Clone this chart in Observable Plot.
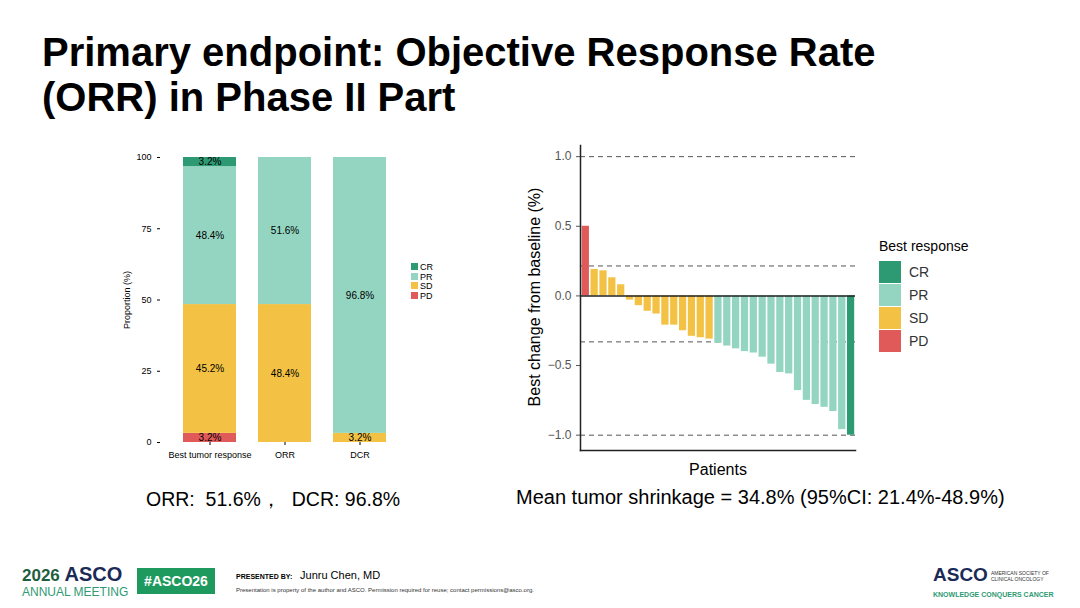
<!DOCTYPE html><html><head><meta charset="utf-8">
<script src="https://cdn.jsdelivr.net/npm/d3@7"></script>
<script src="https://cdn.jsdelivr.net/npm/@observablehq/plot@0.6"></script>
<style>
body{margin:0;width:1080px;height:608px;background:#fff;font-family:Arial,"Liberation Sans",sans-serif;position:relative;overflow:hidden}
.abs{position:absolute}
h1{position:absolute;left:42px;top:30px;margin:0;font-size:40px;line-height:45px;font-weight:bold;color:#000}
</style></head><body>
<h1>Primary endpoint: Objective Response Rate<br>(ORR) in Phase II Part</h1>
<div id="left" class="abs" style="left:120px;top:140px"></div>
<div id="leg1" class="abs" style="left:411px;top:263px;font-size:9px;line-height:9.5px"></div>
<div id="right" class="abs" style="left:510px;top:130px"></div>
<div class="abs" style="left:535px;top:297px;transform:translate(-50%,-50%) rotate(-90deg);white-space:nowrap;font-size:16px">Best change from baseline (%)</div>
<div id="leg2" class="abs" style="left:879px;top:238px;font-size:14px"></div>
<div class="abs" style="left:146px;top:486px;font-size:19.5px">ORR:&nbsp; 51.6%，&nbsp; DCR: 96.8%</div>
<div class="abs" style="left:516px;top:486px;font-size:20px">Mean tumor shrinkage = 34.8% (95%CI: 21.4%-48.9%)</div>
<div class="abs" style="left:22px;top:567px;font-size:17px;font-weight:bold;color:#1f5d3f;line-height:15px">2026 <span style="color:#1b2a56;font-size:20px">ASCO</span><br><span style="font-size:12px;font-weight:normal;color:#2e9a73">ANNUAL MEETING</span></div>
<div class="abs" style="left:137px;top:568px;width:78px;height:26px;background:#1f9a5e;color:#fff;font-weight:bold;font-size:14px;line-height:26px;text-align:center">#ASCO26</div>
<div class="abs" style="left:236px;top:569px;font-size:7px;font-weight:bold">PRESENTED BY:&nbsp;&nbsp;&nbsp; <span style="font-size:11px;font-weight:normal">Junru Chen, MD</span></div>
<div class="abs" style="left:236px;top:587px;font-size:6px;color:#333">Presentation is property of the author and ASCO. Permission required for reuse; contact permissions@asco.org.</div>
<div class="abs" style="left:933px;top:567px;font-size:19px;font-weight:bold;color:#1b2a56;line-height:16px">ASCO<span style="font-size:5px;font-weight:normal;color:#333;display:inline-block;vertical-align:middle;line-height:6px;margin-left:3px">AMERICAN SOCIETY OF<br>CLINICAL ONCOLOGY</span><br><span style="font-size:7px;color:#2e9a73">KNOWLEDGE CONQUERS CANCER</span></div>
<script>
const responses=["CR","PR","SD","PD"];
const colors=["#2e9a73","#93d5c0","#f3c244","#e05a5a"];
const groups=["Best tumor response","ORR","DCR"];
const stackGroup=["Best tumor response","Best tumor response","Best tumor response","Best tumor response","ORR","ORR","DCR","DCR"];
const stackResp=["PD","SD","PR","CR","SD","PR","SD","PR"];
const stackVal=[3.2,45.2,48.4,3.2,48.4,51.6,3.2,96.8];
const yTicks=[0,25,50,75,100];
const patientResp=["PD","SD","SD","SD","SD","SD","SD","SD","SD","SD","SD","SD","SD","SD","SD","PR","PR","PR","PR","PR","PR","PR","PR","PR","PR","PR","PR","PR","PR","PR","CR"];
const patientVal=[0.50,0.19,0.18,0.13,0.08,-0.03,-0.07,-0.11,-0.13,-0.21,-0.21,-0.25,-0.29,-0.30,-0.31,-0.34,-0.36,-0.38,-0.40,-0.41,-0.44,-0.49,-0.55,-0.56,-0.68,-0.75,-0.78,-0.80,-0.83,-0.96,-1.00];
const refLines=[1.0,0.215,-0.33,-1.0];
const wTicks=[-1,-0.5,0,0.5,1];

const order={PD:0,SD:1,PR:2,CR:3};
const stack=stackGroup.map((g,i)=>({g,r:stackResp[i],v:stackVal[i]}));
const color={domain:responses,range:colors};
const left=Plot.plot({width:300,height:330,marginLeft:40,marginRight:11,marginTop:17,marginBottom:28,
 style:{fontFamily:"Arial",fontSize:"9px",color:"#000"},
 x:{domain:groups,paddingInner:0.3,paddingOuter:0.3,label:null,tickSize:3},
 y:{domain:[0,100],ticks:yTicks,label:"Proportion (%)",labelAnchor:"center",labelArrow:"none",tickSize:3},
 color,
 marks:[
  Plot.barY(stack,Plot.stackY({x:"g",y:"v",fill:"r",order:d=>order[d.r]})),
  Plot.text(stack,Plot.stackY({x:"g",y:"v",order:d=>order[d.r],text:d=>d.v.toFixed(1)+"%",fontSize:10})),
  Plot.axisY({ticks:yTicks,tickSize:3,label:"Proportion (%)",labelAnchor:"center",labelArrow:"none"}),
 ]});
document.getElementById("left").append(left);
document.getElementById("leg1").innerHTML=responses.map((r,i)=>`<div><span style="display:inline-block;width:7px;height:7px;background:${colors[i]};margin-right:2px"></span>${r}</div>`).join("");

const pts=patientVal.map((v,i)=>({i,v,r:patientResp[i]}));
const right=Plot.plot({width:350,height:350,marginLeft:70,marginRight:5,marginTop:15,marginBottom:30,
 style:{fontFamily:"Arial",fontSize:"12px",color:"#555"},
 x:{type:"linear",domain:[-0.1,patientVal.length],axis:null},
 y:{domain:[-1.11,1.08],ticks:wTicks,tickFormat:d3.format(".1f")},
 color,
 marks:[
  Plot.ruleY(refLines,{stroke:"#555",strokeDasharray:"5,4",strokeWidth:1}),
  Plot.rectY(pts,{x1:"i",x2:d=>d.i+1,y:"v",fill:"r",insetLeft:0.8,insetRight:0.8}),
  Plot.ruleY([0],{stroke:"#222",strokeWidth:1.5}),
  Plot.axisY({ticks:wTicks,tickFormat:d3.format(".1f"),tickSize:4,label:null}),
  Plot.frame({anchor:"left",stroke:"#222",strokeWidth:1.5}),
  Plot.frame({anchor:"bottom",stroke:"#222",strokeWidth:1.5}),
  Plot.text(["Patients"],{frameAnchor:"bottom",dy:24,fontSize:16,fill:"#000"})
 ]});
document.getElementById("right").append(right);
document.getElementById("leg2").innerHTML=`<div style="margin-bottom:6px">Best response</div>`+responses.map((r,i)=>`<div style="height:23px;display:flex;align-items:center"><span style="display:inline-block;width:22px;height:22px;background:${colors[i]};margin-right:8px"></span><span style="color:#333">${r}</span></div>`).join("");
</script></body></html>
